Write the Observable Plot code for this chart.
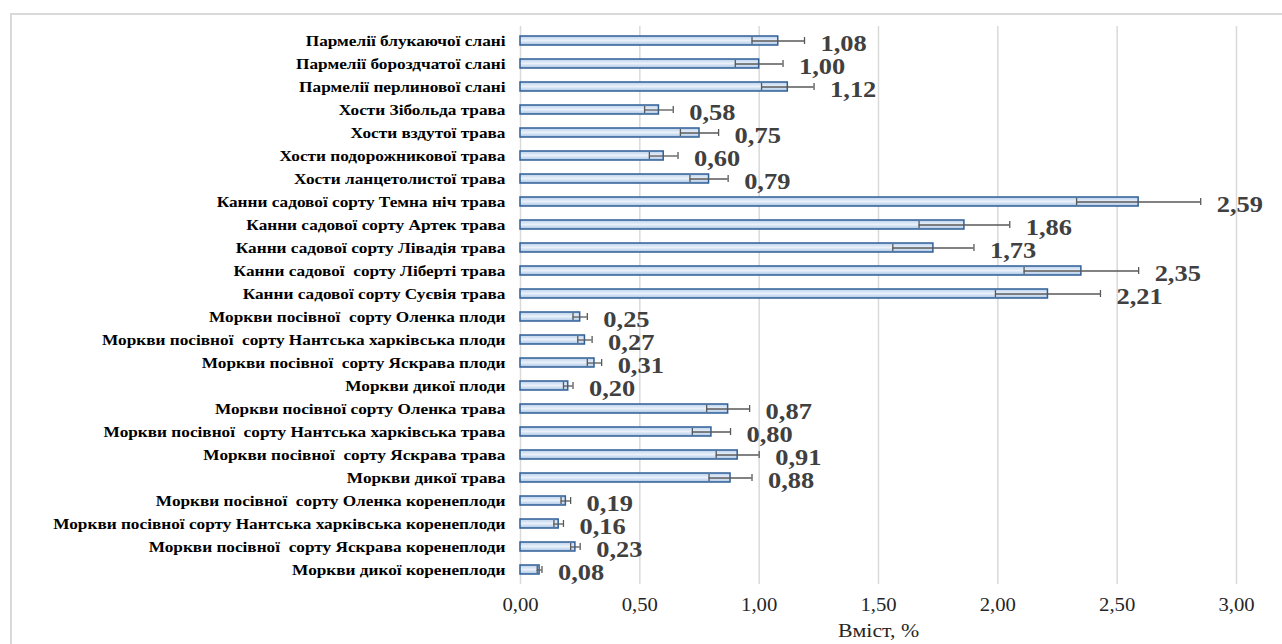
<!DOCTYPE html>
<html>
<head>
<meta charset="utf-8">
<script src="https://cdn.jsdelivr.net/npm/d3@7"></script>
<script src="https://cdn.jsdelivr.net/npm/@observablehq/plot@0.6"></script>
<style>
  html, body { margin: 0; padding: 0; background: #fff; overflow: hidden; }
  #wrap { position: relative; width: 1282px; height: 644px; }
  #frame { position: absolute; left: 10px; top: 13px; width: 1300px; height: 700px; border: 2px solid #d9d9d9; pointer-events: none; }
  #chart { position: absolute; left: 0; top: 0; }
  #chart svg text { font-family: "Liberation Serif", "Times New Roman", serif !important; }
</style>
</head>
<body>
<div id="wrap"><div id="frame"></div><div id="chart"></div></div>
<script>
const categories = [
  "Пармелії блукаючої слані",
  "Пармелії бороздчатої слані",
  "Пармелії перлинової слані",
  "Хости Зібольда трава",
  "Хости вздутої трава",
  "Хости подорожникової трава",
  "Хости ланцетолистої трава",
  "Канни садової сорту Темна ніч трава",
  "Канни садової сорту Артек трава",
  "Канни садової сорту Лівадія трава",
  "Канни садової  сорту Ліберті трава",
  "Канни садової сорту Суєвія трава",
  "Моркви посівної  сорту Оленка плоди",
  "Моркви посівної  сорту Нантська харківська плоди",
  "Моркви посівної  сорту Яскрава плоди",
  "Моркви дикої плоди",
  "Моркви посівної сорту Оленка трава",
  "Моркви посівної  сорту Нантська харківська трава",
  "Моркви посівної  сорту Яскрава трава",
  "Моркви дикої трава",
  "Моркви посівної  сорту Оленка коренеплоди",
  "Моркви посівної сорту Нантська харківська коренеплоди",
  "Моркви посівної  сорту Яскрава коренеплоди",
  "Моркви дикої коренеплоди"
];
const values = [1.08, 1.00, 1.12, 0.58, 0.75, 0.60, 0.79, 2.59, 1.86, 1.73, 2.35, 2.21,
                0.25, 0.27, 0.31, 0.20, 0.87, 0.80, 0.91, 0.88, 0.19, 0.16, 0.23, 0.08];
const errors = [0.11, 0.10, 0.11, 0.06, 0.08, 0.06, 0.08, 0.26, 0.19, 0.17, 0.24, 0.22,
                0.03, 0.03, 0.03, 0.02, 0.09, 0.08, 0.09, 0.09, 0.02, 0.02, 0.02, 0.01];
const xTicks = [0, 0.5, 1, 1.5, 2, 2.5, 3];
const xTitle = "Вміст, %";

const data = categories.map((c, i) => ({cat: c, v: values[i], e: errors[i]}));
const fmt = d => d.toFixed(2).replace(".", ",");
const serif = "Liberation Serif, Times New Roman, serif";

const plot = Plot.plot({
  width: 1282,
  height: 644,
  marginLeft: 520,
  marginRight: 46,
  marginTop: 26,
  marginBottom: 60,
  style: {fontFamily: serif, background: "transparent", overflow: "visible"},
  x: {domain: [0, 3], ticks: xTicks},
  y: {domain: categories, paddingInner: 0.62, paddingOuter: 0.325},
  marks: [
    Plot.ruleX(xTicks, {stroke: "#d9d9d9", strokeWidth: 1.5, strokeOpacity: 1}),
    Plot.barX(data, {x: "v", y: "cat", fill: "url(#barGrad)", stroke: "#2f5f95", strokeWidth: 1.5}),
    Plot.ruleY(data, {y: "cat", x1: d => d.v - d.e, x2: d => d.v + d.e, stroke: "#595959", strokeWidth: 1.3}),
    Plot.tickX(data, {x: d => d.v - d.e, y: "cat", stroke: "#595959", strokeWidth: 1.3, insetTop: 1, insetBottom: 1}),
    Plot.tickX(data, {x: d => d.v + d.e, y: "cat", stroke: "#595959", strokeWidth: 1.3, insetTop: 1, insetBottom: 1}),
    Plot.text(data, {x: d => d.v + d.e, y: "cat", text: d => fmt(d.v), textAnchor: "start", dx: 16, dy: 3,
      fontSize: 23, fontWeight: "bold", fill: "#404040"}),
    Plot.axisY({tickSize: 0, tickPadding: 15, fontSize: 15, fontWeight: "bold", label: null, fill: "#000"}),
    Plot.axisX({ticks: xTicks, tickFormat: fmt, tickSize: 0, tickPadding: 14, fontSize: 18, fill: "#262626",
      label: xTitle, labelAnchor: "center", labelArrow: "none", labelOffset: 52})
  ]
});

// gradient definition for the bars
const svg = d3.select(plot);
const defs = svg.insert("defs", ":first-child");
const g = defs.append("linearGradient").attr("id", "barGrad").attr("x1", 0).attr("y1", 0).attr("x2", 0).attr("y2", 1);
g.append("stop").attr("offset", "0%").attr("stop-color", "#b9d0ec");
g.append("stop").attr("offset", "50%").attr("stop-color", "#eaf1fa");
g.append("stop").attr("offset", "100%").attr("stop-color", "#a8c3e5");

svg.selectAll("[aria-label='x-axis label']").attr("font-size", 19).attr("fill", "#262626").attr("font-weight", "normal");

// the reference chart was stretched horizontally: widen glyphs around their anchor
const SX = 1.15;
svg.selectAll("text").each(function() {
  const t = d3.select(this);
  const tr = t.attr("transform");
  if (tr) t.attr("transform", tr + ` scale(${SX},1)`);
  else {
    const x = +t.attr("x") || 0, y = +t.attr("y") || 0;
    t.attr("transform", `translate(${x},${y}) scale(${SX},1) translate(${-x},${-y})`);
  }
});

document.getElementById("chart").appendChild(plot);
</script>
</body>
</html>
